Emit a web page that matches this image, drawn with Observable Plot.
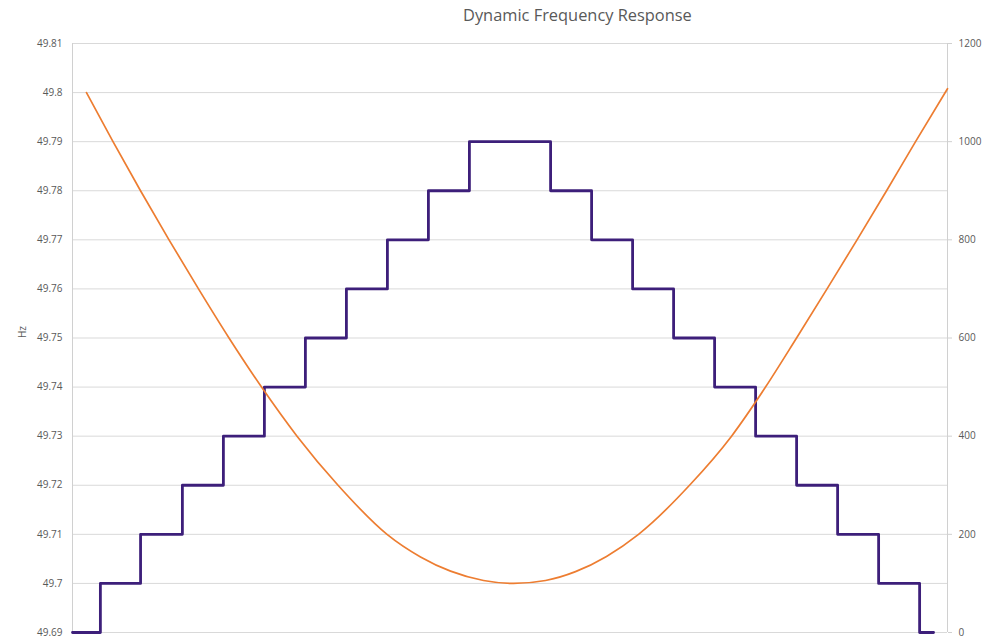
<!DOCTYPE html>
<html>
<head>
<meta charset="utf-8">
<script src="https://cdn.jsdelivr.net/npm/d3@7"></script>
<script src="https://cdn.jsdelivr.net/npm/@observablehq/plot@0.6"></script>
<style>
  html, body { margin: 0; padding: 0; background: #fff; }
  #wrap { position: relative; width: 983px; height: 641px; font-family: "Open Sans", sans-serif; }
  #title { position: absolute; left: 0; top: 0; width: 983px; height: 30px; }
  #title span { position: absolute; left: 463px; top: 3px; font-size: 16.4px; color: #595959; white-space: nowrap; }
  #chart { position: absolute; left: 0; top: 30px; }
</style>
</head>
<body>
<div id="wrap">
  <div id="title"><span>Dynamic Frequency Response</span></div>
  <div id="chart"></div>
</div>
<script>
// Time axis (hidden): seconds-like units
const xDomain = [0, 21.34];

// Step series (MW, right axis)
const stepTime = [0, 0.68, 1.66, 2.68, 3.68, 4.68, 5.68, 6.68, 7.68, 8.68, 9.68,
                  11.66, 12.66, 13.66, 14.66, 15.66, 16.66, 17.66, 18.66, 19.66, 20.66, 21.0];
const stepMW   = [0, 100, 200, 300, 400, 500, 600, 700, 800, 900, 1000,
                  900, 800, 700, 600, 500, 400, 300, 200, 100, 0, 0];

// Frequency series (Hz, left axis)
const freqTime = [0.341, 0.988, 1.659, 2.354, 3.073, 3.817, 4.610, 5.476, 6.476, 7.671,
                  8.488, 9.220, 10.024, 10.756, 11.537, 12.268, 13.024,
                  13.805, 15.049, 16.073, 16.902, 17.659, 18.402, 19.134, 19.854, 20.561, 21.341];
const freqHz   = [49.80, 49.79, 49.78, 49.77, 49.76, 49.75, 49.74, 49.73, 49.72, 49.71,
                  49.7054, 49.7025, 49.7006, 49.7000, 49.7006, 49.7024, 49.7055,
                  49.71, 49.72, 49.73, 49.74, 49.75, 49.76, 49.77, 49.78, 49.79, 49.8008];

// Axis ticks
const hzTicks = [49.69, 49.70, 49.71, 49.72, 49.73, 49.74, 49.75, 49.76, 49.77, 49.78, 49.79, 49.80, 49.81];
const mwTicks = [0, 200, 400, 600, 800, 1000, 1200];

const hzMin = 49.69, hzMax = 49.81, mwMax = 1200;
const mwToHz = mw => hzMin + (mw / mwMax) * (hzMax - hzMin);
const hzToMw = hz => Math.round((hz - hzMin) / (hzMax - hzMin) * mwMax);

const steps = stepTime.map((t, i) => ({t, v: mwToHz(stepMW[i])}));
const freq = freqTime.map((t, i) => ({t, hz: freqHz[i]}));

const plot = Plot.plot({
  width: 983,
  height: 611,
  marginLeft: 72,
  marginRight: 36,
  marginTop: 13,
  marginBottom: 9,
  style: {fontFamily: "Open Sans, sans-serif", fontSize: "10px", color: "#595959", background: "#fff"},
  x: {domain: xDomain, axis: null},
  y: {domain: [hzMin, hzMax], axis: null},
  marks: [
    Plot.gridY(hzTicks, {stroke: "#d9d9d9", strokeOpacity: 1, strokeWidth: 1}),
    Plot.ruleX(xDomain, {stroke: "#d0d0d0", strokeWidth: 1}),
    Plot.axisY(hzTicks, {anchor: "left", tickSize: 0, tickPadding: 10, label: null,
      tickFormat: d => String(+d.toFixed(2)), fill: "#595959"}),
    Plot.axisY(mwTicks.map(mwToHz), {anchor: "right", tickSize: 4, tickPadding: 7, label: null,
      stroke: "#d0d0d0", fill: "#595959", tickFormat: d => String(hzToMw(d))}),
    Plot.text(["Hz"], {frameAnchor: "left", dx: -50, rotate: -90, fill: "#595959", fontSize: 10}),
    Plot.line(steps, {x: "t", y: "v", curve: "step-after", stroke: "#3d1f7a", strokeWidth: 2.8}),
    Plot.line(freq, {x: "t", y: "hz", curve: "monotone-x", stroke: "#ed7d31", strokeWidth: 1.7})
  ]
});
document.getElementById("chart").appendChild(plot);
</script>
</body>
</html>
